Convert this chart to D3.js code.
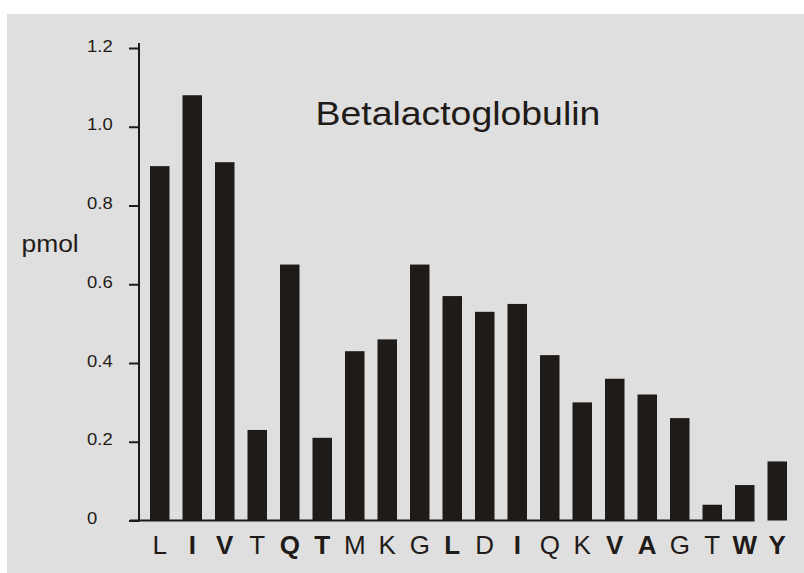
<!DOCTYPE html>
<html>
<head>
<meta charset="utf-8">
<script src="https://cdn.jsdelivr.net/npm/d3@7"></script>
<style>
  html, body { margin: 0; padding: 0; background: #ffffff; }
  svg { display: block; }
  text { font-family: Arial, "Liberation Sans", sans-serif; fill: #1f1b18; }
</style>
</head>
<body>
<svg id="chart" width="804" height="573"></svg>
<script>
// ---- data ----
const categories = ["L","I","V","T","Q","T","M","K","G","L","D","I","Q","K","V","A","G","T","W","Y"];
const values     = [0.90, 1.08, 0.91, 0.23, 0.65, 0.21, 0.43, 0.46, 0.65, 0.57, 0.53, 0.55, 0.42, 0.30, 0.36, 0.32, 0.26, 0.04, 0.09, 0.15];
const yTicks     = [0, 0.2, 0.4, 0.6, 0.8, 1.0, 1.2];
const yTickLabels = ["0", "0.2", "0.4", "0.6", "0.8", "1.0", "1.2"];
const title = "Betalactoglobulin";
const yLabel = "pmol";
// label styling (which category letters are drawn bold)
const boldLabels = [false,true,true,false,true,true,false,false,false,true,false,true,false,false,true,true,false,false,true,true];

const ink = "#1f1b18";
const svg = d3.select("#chart");

// background panel
svg.append("rect").attr("x", 7).attr("y", 14).attr("width", 797).attr("height", 559).attr("fill", "#dfdfdf");

const ids = categories.map((c, i) => i);
const x = d3.scaleBand().domain(ids).range([143.5, 793.5]).paddingInner(0.4).paddingOuter(0.2);
const y = d3.scaleLinear().domain([0, 1.2]).range([520.5, 48]);

const axisX = 139;

// bars
svg.append("g").selectAll("rect").data(values).join("rect")
  .attr("x", (d, i) => x(i))
  .attr("width", x.bandwidth())
  .attr("y", d => y(d))
  .attr("height", d => y(0) - y(d))
  .attr("fill", ink);

// baseline (x axis line)
svg.append("line")
  .attr("x1", 130).attr("x2", x(categories.length - 2) + x.bandwidth())
  .attr("y1", y(0)).attr("y2", y(0))
  .attr("stroke", ink).attr("stroke-width", 2);

// y axis
const yAxis = d3.axisLeft(y).tickValues(yTicks).tickSize(10).tickSizeOuter(0)
  .tickFormat((d, i) => yTickLabels[i]);
const gy = svg.append("g").attr("transform", `translate(${axisX},0)`).call(yAxis);
gy.select(".domain").remove();
gy.selectAll(".tick line").attr("stroke", ink).attr("stroke-width", 2);
gy.selectAll(".tick text")
  .attr("x", 0).attr("dy", null).attr("y", 0)
  .attr("text-anchor", "start")
  .attr("transform", "translate(-52,3) scale(1.12,1)")
  .style("font-size", "16.5px")
  .style("font-family", "Arial, 'Liberation Sans', sans-serif")
  .attr("fill", ink);
svg.append("line")
  .attr("x1", axisX).attr("x2", axisX)
  .attr("y1", y(1.2) - 5).attr("y2", y(0) + 1)
  .attr("stroke", ink).attr("stroke-width", 2);

// x axis labels
const xAxis = d3.axisBottom(x).tickSize(0).tickFormat(i => categories[i]);
const gx = svg.append("g").attr("transform", `translate(0,${y(0)})`).call(xAxis);
gx.select(".domain").remove();
gx.selectAll(".tick text")
  .attr("y", 33.5).attr("dy", null)
  .style("font-size", "26px")
  .style("font-family", "Arial, 'Liberation Sans', sans-serif")
  .style("font-weight", (i) => boldLabels[i] ? "bold" : "normal")
  .attr("fill", ink);

// title
svg.append("text")
  .attr("transform", "translate(315.5,124.5) scale(1.1,1)")
  .style("font-size", "34px")
  .text(title);

// y label
svg.append("text")
  .attr("transform", "translate(21.5,251.7) scale(1.1,1)")
  .style("font-size", "24px")
  .text(yLabel);
</script>
</body>
</html>
